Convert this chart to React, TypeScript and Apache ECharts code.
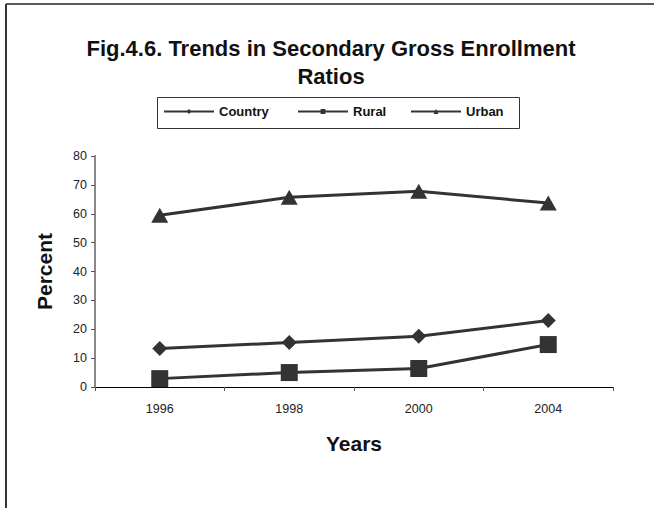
import React, { useEffect, useRef } from "react";
import * as echarts from "echarts";

const years = ["1996", "1998", "2000", "2004"];
const country = [13.3, 15.4, 17.6, 23.0];
const rural = [2.9, 5.0, 6.4, 14.7];
const urban = [59.5, 65.7, 67.8, 63.7];
const seriesNames = ["Country", "Rural", "Urban"];
const titleLines = ["Fig.4.6. Trends in Secondary Gross Enrollment", "Ratios"];

const INK = "#333333";
const FONT = "Liberation Sans";

export default function App() {
  const ref = useRef<HTMLDivElement>(null);
  useEffect(() => {
    document.body.style.margin = "0";
    const chart = echarts.init(ref.current!, null, { renderer: "svg" });
    const legendPos = [163, 297, 410];
    chart.setOption({
      animation: false,
      backgroundColor: "#ffffff",
      grid: { left: 95, right: 41, top: 156, bottom: 121 },
      legend: seriesNames.map((n, i) => ({
        data: [n],
        left: legendPos[i],
        top: 105,
        itemWidth: 50,
        itemHeight: 6,
        itemGap: 0,
        padding: 0,
        textStyle: {
          fontFamily: FONT,
          fontWeight: "bold",
          fontSize: 13,
          color: "#111",
        },
      })),
      xAxis: {
        type: "category",
        data: years,
        boundaryGap: true,
        axisLine: { lineStyle: { color: "#000", width: 1 } },
        axisTick: { show: true, length: 4, alignWithLabel: false, lineStyle: { color: "#555" } },
        axisLabel: { fontFamily: FONT, fontSize: 12.5, color: "#222", margin: 15 },
        name: "Years",
        nameLocation: "middle",
        nameGap: 46,
        nameTextStyle: { fontFamily: FONT, fontWeight: "bold", fontSize: 21, color: "#111" },
        splitLine: { show: false },
      },
      yAxis: {
        type: "value",
        min: 0,
        max: 80,
        interval: 10,
        axisLine: { show: true, lineStyle: { color: "#888", width: 2 } },
        axisTick: { show: true, length: 4, lineStyle: { color: "#555" } },
        axisLabel: { fontFamily: FONT, fontSize: 12.5, color: "#222", margin: 8 },
        splitLine: { show: false },
        name: "Percent",
        nameLocation: "middle",
        nameGap: 40,
        nameTextStyle: { fontFamily: FONT, fontWeight: "bold", fontSize: 21, color: "#111" },
      },
      series: [
        {
          name: seriesNames[0],
          type: "line",
          data: country,
          symbol: "diamond",
          symbolSize: 15,
          itemStyle: { color: INK },
          lineStyle: { color: INK, width: 3 },
        },
        {
          name: seriesNames[1],
          type: "line",
          data: rural,
          symbol: "rect",
          symbolSize: 17,
          itemStyle: { color: INK },
          lineStyle: { color: INK, width: 3 },
        },
        {
          name: seriesNames[2],
          type: "line",
          data: urban,
          symbol: "triangle",
          symbolSize: [17, 15],
          itemStyle: { color: INK },
          lineStyle: { color: INK, width: 3 },
        },
      ],
      graphic: [
        { type: "line", shape: { x1: 6, y1: 4, x2: 654, y2: 4 }, style: { stroke: "#222", lineWidth: 1.5 } },
        { type: "line", shape: { x1: 6, y1: 4, x2: 6, y2: 508 }, style: { stroke: "#333", lineWidth: 2 } },
        {
          type: "rect",
          shape: { x: 157.5, y: 97.5, width: 362, height: 31 },
          style: { fill: "none", stroke: "#333", lineWidth: 1 },
        },
        ...titleLines.map((t, i) => ({
          type: "text",
          x: 331,
          y: 48 + i * 28,
          style: {
            text: t,
            align: "center",
            verticalAlign: "middle",
            fill: "#111",
            font: `bold 22px '${FONT}'`,
          },
        })),
      ],
    });
    return () => chart.dispose();
  }, []);
  return <div ref={ref} style={{ width: 654, height: 508 }} />;
}
